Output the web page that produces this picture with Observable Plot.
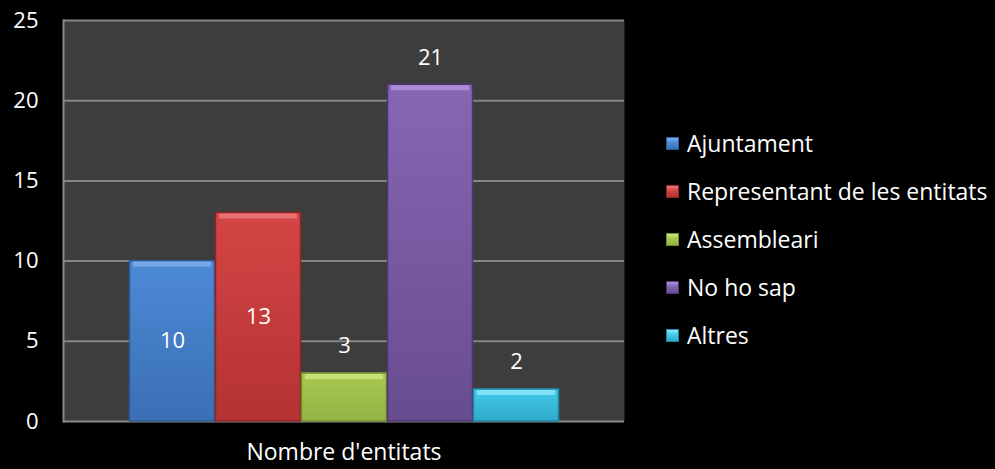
<!DOCTYPE html>
<html>
<head>
<meta charset="utf-8">
<script src="https://cdn.jsdelivr.net/npm/d3@7"></script>
<script src="https://cdn.jsdelivr.net/npm/@observablehq/plot@0.6"></script>
<style>
  html, body { margin: 0; padding: 0; background: #000; }
  #wrap { position: relative; width: 995px; height: 469px; background: #000; overflow: hidden; font-family: "Open Sans", Lato, sans-serif; }
  #legend { position: absolute; left: 666px; top: 119px; color: #fff; font-size: 23px; }
  .item { display: flex; align-items: center; height: 48px; white-space: nowrap; }
  .sw { width: 13px; height: 13px; margin-right: 8px; box-sizing: border-box; }
</style>
</head>
<body>
<div id="wrap"></div>
<script>
// ---- data ----
const categories = ["Ajuntament", "Representant de les entitats", "Assembleari", "No ho sap", "Altres"];
const values = [10, 13, 3, 21, 2];
const groupLabel = "Nombre d'entitats";
const yTicks = [0, 5, 10, 15, 20, 25];
const labelInside = [true, true, false, false, false];
// colours (top, bottom, highlight, edge)
const colTop = ["#4d8ad6", "#d44545", "#a8ca52", "#8766b4", "#45cbea"];
const colBot = ["#3a6fb4", "#b53232", "#93b343", "#684c90", "#2ea9c9"];
const colHi  = ["#7fb0ee", "#ee7a7a", "#cfe77e", "#b595e0", "#8ee6fa"];
const colEdge = ["#2c5a96", "#8e2424", "#738c2e", "#4e3672", "#1f86a2"];

const data = categories.map((c, i) => ({
  cat: c, value: values[i], i,
  fill: `url(#grad${i})`,
  hi: colHi[i], edge: colEdge[i],
  inside: labelInside[i]
}));

const defs = () => {
  const d = d3.create("svg:defs");
  categories.forEach((c, i) => {
    const g = d.append("linearGradient").attr("id", `grad${i}`).attr("x1", 0).attr("y1", 0).attr("x2", 0).attr("y2", 1);
    g.append("stop").attr("offset", "0%").attr("stop-color", colTop[i]);
    g.append("stop").attr("offset", "100%").attr("stop-color", colBot[i]);
  });
  return d.node();
};

const font = "'Open Sans', Lato, sans-serif";

const chart = Plot.plot({
  width: 995,
  height: 469,
  marginLeft: 63,
  marginRight: 371,
  marginTop: 20,
  marginBottom: 48,
  style: { background: "#000", color: "#fff", fontFamily: font, fontSize: "22px" },
  x: { domain: categories, paddingInner: 0, paddingOuter: 0.756, axis: null, label: null },
  y: { domain: [0, 25], axis: null, label: null },
  color: { type: "identity" },
  marks: [
    defs,
    Plot.frame({ fill: "#3d3d3d", stroke: null }),
    Plot.ruleY(yTicks.filter(t => t > 0), { stroke: "#858585", strokeWidth: 2 }),
    Plot.ruleY([0], { stroke: "#8a8a8a", strokeWidth: 2 }),
    Plot.frame({ anchor: "left", stroke: "#8a8a8a", strokeWidth: 2 }),
    Plot.axisY({ ticks: yTicks, tickSize: 0, tickPadding: 25, fontSize: 22, fill: "#fff", label: null }),
    Plot.barY(data, { x: "cat", y: "value", fill: "fill", stroke: "edge", strokeWidth: 1.5, insetLeft: 0.5, insetRight: 0.5 }),
    Plot.tickY(data, { x: "cat", y: "value", stroke: "hi", strokeWidth: 5, dy: 3, insetLeft: 4, insetRight: 4, strokeOpacity: 0.8 }),
    Plot.text(data.filter(d => d.inside), { x: "cat", y: d => d.value / 2, text: d => String(d.value), fill: "#fff", fontSize: 22 }),
    Plot.text(data.filter(d => !d.inside), { x: "cat", y: "value", text: d => String(d.value), fill: "#fff", fontSize: 22, dy: -27 }),
    Plot.text([groupLabel], { frameAnchor: "bottom", dy: 38, text: d => d, fill: "#fff", fontSize: 23 })
  ]
});

const wrap = document.getElementById("wrap");
wrap.appendChild(chart);

const legend = document.createElement("div");
legend.id = "legend";
categories.forEach((c, i) => {
  const it = document.createElement("div");
  it.className = "item";
  const sw = document.createElement("span");
  sw.className = "sw";
  sw.style.background = `linear-gradient(${colHi[i]}, ${colTop[i]} 40%, ${colBot[i]})`;
  sw.style.border = `1px solid ${colEdge[i]}`;
  const tx = document.createElement("span");
  tx.textContent = c;
  it.appendChild(sw);
  it.appendChild(tx);
  legend.appendChild(it);
});
wrap.appendChild(legend);
</script>
</body>
</html>
